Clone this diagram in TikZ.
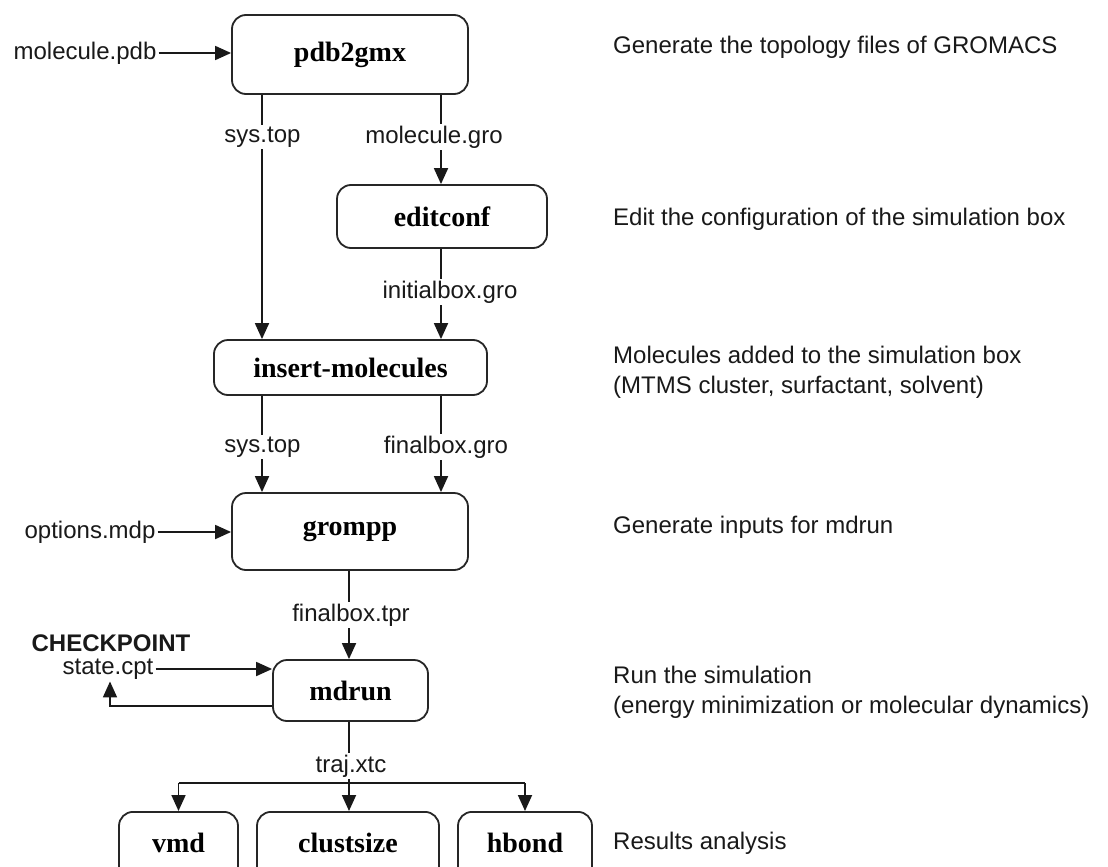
\documentclass[tikz,border=0pt]{standalone}
\usepackage{fontspec}
\setmainfont{Liberation Serif}
\newfontfamily\labfont{Liberation Sans}
\usetikzlibrary{arrows.meta}
\tikzset{
  proc/.style={draw=black!85, line width=1.8pt, rounded corners=14pt, fill=white,
    font=\fontsize{28}{30}\selectfont\bfseries, inner sep=0pt},
  leaf/.style={proc, anchor=north, minimum height=0pt, inner ysep=0pt,
    text height=41pt, text depth=40pt},
  flab/.style={font=\labfont\fontsize{24}{27}\selectfont, inner sep=2pt, text=black!90},
  note/.style={font=\labfont\fontsize{24}{30}\selectfont, anchor=west, align=left, inner sep=0pt, text=black!90},
  conn/.style={line width=1.8pt, draw=black!90},
  arr/.style={conn, -{Triangle[length=16pt,width=14pt]}},
}
\begin{document}
\begin{tikzpicture}[x=1pt,y=-1pt]
\useasboundingbox (0,0) rectangle (1108,867);
\fill[white] (0,0) rectangle (1108,867);
\begin{scope}
\clip (0,0) rectangle (1108,867);
% process boxes
\node[proc, minimum width=236pt, minimum height=79pt] (pdb) at (350,54.5) {pdb2gmx};
\node[proc, minimum width=210pt, minimum height=63pt] (edit) at (442,216.5) {editconf};
\node[proc, minimum width=273pt, minimum height=55pt] (ins) at (350.5,367.5) {insert-molecules};
\node[proc, minimum width=236pt, minimum height=77pt] (gro) at (350,531.5) {grompp};
\node[proc, minimum width=155pt, minimum height=61pt] (md) at (350.5,690.5) {mdrun};
\node[leaf, minimum width=119pt] (vmd) at (178.5,811) {vmd};
\node[leaf, minimum width=182pt] (clu) at (348,811) {clustsize};
\node[leaf, minimum width=134pt] (hb) at (525,811) {hbond};

% column coordinates
\coordinate (cL) at (262,0);
\coordinate (cR) at (441,0);
\coordinate (cM) at (349,0);
\coordinate (split) at (349,783);
\coordinate (back) at (110,706);

% file labels
\node[flab] (molpdb) at (85,53) {molecule.pdb};
\node[flab] (systop1) at (262.5,137) {sys.top};
\node[flab] (molgro) at (434,137) {molecule.gro};
\node[flab] (initgro) at (450,292) {initialbox.gro};
\node[flab] (systop2) at (262.5,447) {sys.top};
\node[flab] (fingro) at (446,447) {finalbox.gro};
\node[flab] (optmdp) at (90,532) {options.mdp};
\node[flab] (fintpr) at (351,615) {finalbox.tpr};
\node[flab, font=\labfont\bfseries\fontsize{24}{27}\selectfont] (ckpt) at (111,643) {CHECKPOINT};
\node[flab] (state) at (108,669) {state.cpt};
\node[flab] (traj) at (351,766) {traj.xtc};

% connectors
\draw[arr] (molpdb.east) -- (pdb.west |- molpdb);
\draw[conn] (pdb.south -| cL) -- (systop1.north -| cL);
\draw[arr] (systop1.south -| cL) -- (ins.north -| cL);
\draw[conn] (pdb.south -| cR) -- (molgro.north -| cR);
\draw[arr] (molgro.south -| cR) -- (edit.north -| cR);
\draw[conn] (edit.south -| cR) -- (initgro.north -| cR);
\draw[arr] (initgro.south -| cR) -- (ins.north -| cR);
\draw[conn] (ins.south -| cL) -- (systop2.north -| cL);
\draw[arr] (systop2.south -| cL) -- (gro.north -| cL);
\draw[conn] (ins.south -| cR) -- (fingro.north -| cR);
\draw[arr] (fingro.south -| cR) -- (gro.north -| cR);
\draw[arr] (optmdp.east) -- (gro.west |- optmdp);
\draw[conn] (gro.south -| cM) -- (fintpr.north -| cM);
\draw[arr] (fintpr.south -| cM) -- (md.north -| cM);
\draw[arr] (state.east) -- (md.west |- state);
\draw[arr] (md.west |- back) -- (back) -- (state.south -| back);
\draw[conn] (md.south -| cM) -- (traj.north -| cM);
\draw[conn] (traj.south -| cM) -- (split);
\draw[conn] (split -| vmd.north) -- (split -| hb.north);
\draw[arr] (split -| vmd.north) -- (vmd.north);
\draw[arr] (split) -- (clu.north -| split);
\draw[arr] (split -| hb.north) -- (hb.north);
\end{scope}

% descriptions
\node[note] (d1) at (613,47) {Generate the topology files of GROMACS};
\node[note] (d2) at (613,219) {Edit the configuration of the simulation box};
\node[note] (d3) at (613,372) {Molecules added to the simulation box\\(MTMS cluster, surfactant, solvent)};
\node[note] (d4) at (613,527) {Generate inputs for mdrun};
\node[note] (d5) at (613,692.5) {Run the simulation\\(energy minimization or molecular dynamics)};
\node[note] (d6) at (613,843) {Results analysis};
\end{tikzpicture}
\end{document}
